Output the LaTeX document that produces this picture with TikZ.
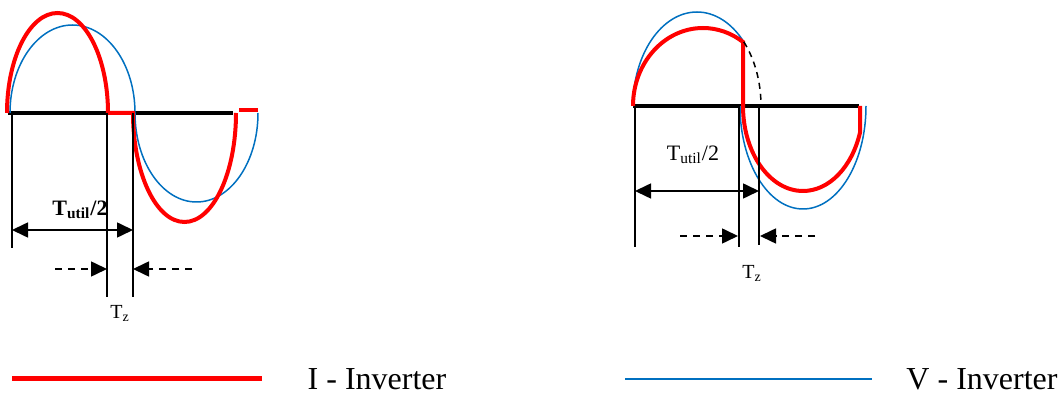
\documentclass[tikz,border=0pt]{standalone}
\usepackage{fontspec}
\setmainfont{Liberation Serif}
\usetikzlibrary{arrows.meta}
\definecolor{ired}{RGB}{255,0,0}
\definecolor{vblue}{RGB}{0,112,192}
\begin{document}
\begin{tikzpicture}[x=0.5pt, y=0.5pt,
    axisline/.style={line width=1.75pt, draw=black},
    iwave/.style={line width=2pt, draw=ired},
    vwave/.style={line width=0.75pt, draw=vblue},
    marker/.style={line width=0.8pt, draw=black},
    dimarr/.style={<->, >={Triangle[length=8pt,width=7.5pt]}, line width=0.8pt},
    gaparr/.style={->, >={Triangle[length=8pt,width=7.5pt]}, line width=0.8pt,
                   dash pattern=on 3.5pt off 3pt},
    dimlbl/.style={inner sep=0pt, font=\fontsize{11}{13}\selectfont},
    tzlbl/.style={inner sep=0pt, font=\fontsize{10}{12}\selectfont},
    legtxt/.style={inner sep=0pt, font=\fontsize{16}{19}\selectfont}
]
\useasboundingbox (0,0) rectangle (1061,396);

%% Left panel %%

% Axis and waves
\draw[axisline] (8,283) -- (233,283);
\draw[vwave] (10,283) arc[start angle=180, end angle=0, x radius=62.5, y radius=88]
    arc[start angle=180, end angle=360, x radius=61.5, y radius=89];
\draw[iwave] (7,283) arc[start angle=180, end angle=0, x radius=50.5, y radius=100]
    -- (133,283) arc[start angle=180, end angle=360, x radius=51.5, y radius=109];
\draw[iwave] (239,286) -- (258,286);

% Marker lines
\coordinate (la) at (12,283);  \coordinate (lab) at (12,148);
\coordinate (lb) at (107,283); \coordinate (lbb) at (107,99);
\coordinate (lc) at (133,283); \coordinate (lcb) at (133,99);
\draw[marker] (la) -- (lab);
\draw[marker] (lb) -- (lbb);
\draw[marker] (lc) -- (lcb);

% Dimension arrows
\coordinate (ldl) at (12,166);  \coordinate (ldr) at (133,166);
\draw[dimarr] (ldl) -- (ldr);
\node[dimlbl] (lhalf) at (80,186) {\textbf{T\textsubscript{util}/2}};
\coordinate (lgl0) at (55,127);  \coordinate (lgl1) at (107,127);
\coordinate (lgr0) at (192,127); \coordinate (lgr1) at (133,127);
\draw[gaparr] (lgl0) -- (lgl1);
\draw[gaparr] (lgr0) -- (lgr1);
\node[tzlbl] (ltz) at (120,83) {T\textsubscript{z}};

%% Right panel %%

% Axis and waves
\draw[axisline] (633,290) -- (859,290);
\draw[vwave] (633,290) arc[start angle=180, end angle=43, x radius=64, y radius=94]
    coordinate (vcut);
\draw[vwave] (740,290) arc[start angle=180, end angle=360, x radius=63, y radius=103];
\draw[iwave] (633,290) arc[start angle=180, end angle=55, x radius=70, y radius=78]
    -- (743,290) arc[start angle=180, end angle=342, x radius=60, y radius=85]
    -- (860,290);
\draw[line width=0.75pt, dash pattern=on 3pt off 2.5pt]
    (vcut) arc[start angle=43, end angle=0, x radius=64, y radius=94];

% Marker lines
\coordinate (ra) at (635,290); \coordinate (rab) at (635,149);
\coordinate (rb) at (739,290); \coordinate (rbb) at (739,149);
\coordinate (rc) at (759,290); \coordinate (rcb) at (759,151);
\draw[marker] (ra) -- (rab);
\draw[marker] (rb) -- (rbb);
\draw[marker] (rc) -- (rcb);

% Dimension arrows
\coordinate (rdl) at (635,205); \coordinate (rdr) at (759,205);
\draw[dimarr] (rdl) -- (rdr);
\node[dimlbl] (rhalf) at (693,241) {T\textsubscript{util}/2};
\coordinate (rgl0) at (680,160); \coordinate (rgl1) at (738,160);
\coordinate (rgr0) at (815,160); \coordinate (rgr1) at (760,160);
\draw[gaparr] (rgl0) -- (rgl1);
\draw[gaparr] (rgr0) -- (rgr1);
\node[tzlbl] (rtz) at (752,123) {T\textsubscript{z}};

%% Legend %%
\coordinate (il0) at (12,17);  \coordinate (il1) at (262,17);
\coordinate (vl0) at (625,17); \coordinate (vl1) at (872,17);
\draw[ired, line width=2.5pt] (il0) -- (il1);
\draw[vblue, line width=1.2pt] (vl0) -- (vl1);
\node[legtxt] (ileg) at (377,17) {I - Inverter};
\node[legtxt] (vleg) at (982,17) {V - Inverter};

\end{tikzpicture}
\end{document}
